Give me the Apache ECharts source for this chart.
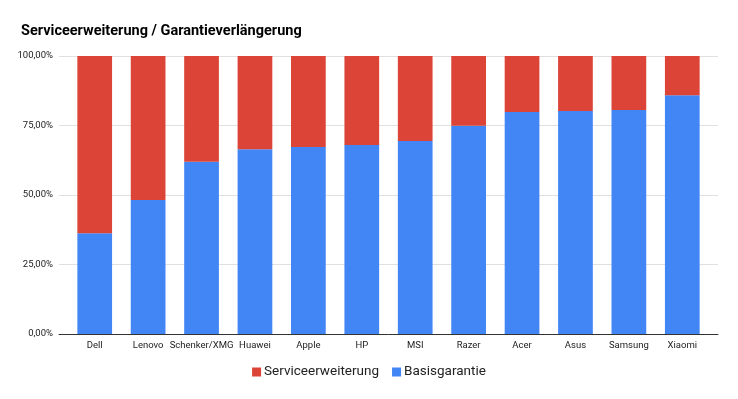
<!DOCTYPE html>
<html>
<head>
<meta charset="utf-8">
<script src="https://cdn.jsdelivr.net/npm/echarts@6/dist/echarts.min.js"></script>
<style>
  html, body { margin: 0; padding: 0; background: #fff; }
  #chart { width: 738px; height: 399px; }
</style>
</head>
<body>
<div id="chart"></div>
<script>
const categories = ['Dell', 'Lenovo', 'Schenker/XMG', 'Huawei', 'Apple', 'HP', 'MSI', 'Razer', 'Acer', 'Asus', 'Samsung', 'Xiaomi'];
const basisgarantie = [36.2, 48.2, 62.0, 66.5, 67.3, 68.0, 69.4, 74.9, 79.9, 80.2, 80.6, 85.9];
const serviceerweiterung = [63.8, 51.8, 38.0, 33.5, 32.7, 32.0, 30.6, 25.1, 20.1, 19.8, 19.4, 14.1];
const yTicks = [0, 25, 50, 75, 100];

const fmt = v => v.toFixed(2).replace('.', ',') + '%';

const chart = echarts.init(document.getElementById('chart'));
chart.setOption({
  animation: false,
  textStyle: { fontFamily: 'Roboto' },
  title: {
    text: 'Serviceerweiterung / Garantieverlängerung',
    left: 16,
    top: 19,
    textStyle: { fontSize: 14.5, fontWeight: 'bold', color: '#000', fontFamily: 'Roboto' }
  },
  legend: {
    bottom: 15,
    left: 'center',
    itemWidth: 9,
    itemHeight: 9,
    itemGap: 13,
    icon: 'rect',
    data: ['Serviceerweiterung', 'Basisgarantie'],
    textStyle: { fontSize: 13.5, color: '#222', padding: [0, 0, 0, -2] }
  },
  // outer grid: gridlines, y labels, base line
  // inner grid: bars and category labels
  grid: [
    { left: 59, right: 20, top: 56, bottom: 65, outerBoundsMode: 'none' },
    { left: 68, right: 29, top: 56, bottom: 65, outerBoundsMode: 'none' }
  ],
  xAxis: [
    {
      gridIndex: 0,
      type: 'category',
      data: [''],
      axisTick: { show: false },
      axisLabel: { show: false },
      axisLine: { lineStyle: { color: '#333', width: 1 } }
    },
    {
      gridIndex: 1,
      type: 'category',
      data: categories,
      axisTick: { show: false },
      axisLine: { show: false },
      axisLabel: { fontSize: 9.5, color: '#222', margin: 7, interval: 0 }
    }
  ],
  yAxis: [
    {
      gridIndex: 0,
      type: 'value',
      min: yTicks[0],
      max: yTicks[yTicks.length - 1],
      interval: 25,
      axisLine: { show: false },
      axisTick: { show: false },
      splitLine: { lineStyle: { color: '#e0e0e0' } },
      axisLabel: { fontSize: 9.5, color: '#222', formatter: fmt, margin: 6 }
    },
    {
      gridIndex: 1,
      type: 'value',
      min: yTicks[0],
      max: yTicks[yTicks.length - 1],
      interval: 25,
      show: false
    }
  ],
  series: [
    {
      name: 'Basisgarantie',
      type: 'bar',
      xAxisIndex: 1,
      yAxisIndex: 1,
      stack: 'total',
      barWidth: '65%',
      itemStyle: { color: '#4285F4' },
      data: basisgarantie
    },
    {
      name: 'Serviceerweiterung',
      type: 'bar',
      xAxisIndex: 1,
      yAxisIndex: 1,
      stack: 'total',
      barWidth: '65%',
      itemStyle: { color: '#DB4437' },
      data: serviceerweiterung
    }
  ]
});
</script>
</body>
</html>
